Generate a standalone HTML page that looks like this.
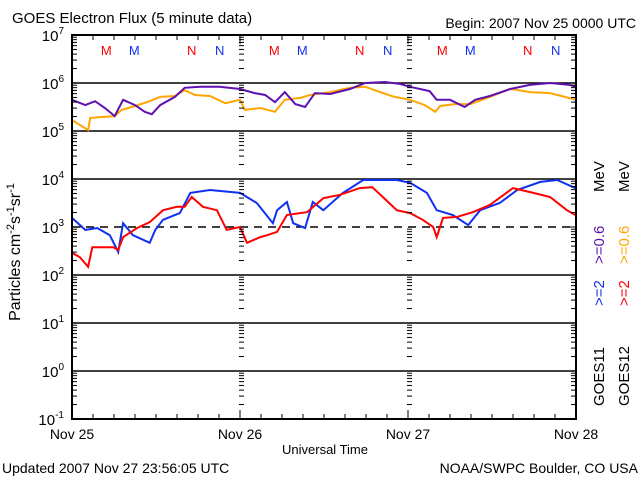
<!DOCTYPE html>
<html><head><meta charset="utf-8"><style>
html,body{margin:0;padding:0;background:#fff;}
svg{display:block;font-family:"Liberation Sans",sans-serif;}
</style></head><body>
<svg id="chart" width="640" height="480" viewBox="0 0 640 480" xmlns="http://www.w3.org/2000/svg">
<rect width="640" height="480" fill="#fff"/>
<text x="12" y="23" font-size="15">GOES Electron Flux (5 minute data)</text>
<text x="636" y="28" font-size="14" text-anchor="end">Begin: 2007 Nov 25 0000 UTC</text>
<text transform="translate(20,252) rotate(-90)" font-size="16" text-anchor="middle">Particles cm<tspan dy="-6" font-size="11">-2</tspan><tspan dy="6">s</tspan><tspan dy="-6" font-size="11">-1</tspan><tspan dy="6">sr</tspan><tspan dy="-6" font-size="11">-1</tspan></text>
<text x="325" y="454" font-size="13" text-anchor="middle">Universal Time</text>
<text x="2" y="473" font-size="14">Updated 2007 Nov 27 23:56:05 UTC</text>
<text x="638" y="473" font-size="14" text-anchor="end">NOAA/SWPC Boulder, CO USA</text>
<g id="grid"></g><g id="series"></g><g id="axes"></g><g id="labels"></g>
<g font-size="15">
<text transform="translate(604,406) rotate(-90)">GOES11</text>
<text transform="translate(604,306) rotate(-90)" fill="#1030f0">&gt;=2</text>
<text transform="translate(604,264) rotate(-90)" fill="#6010b0">&gt;=0.6</text>
<text transform="translate(604,192) rotate(-90)">MeV</text>
<text transform="translate(629,406) rotate(-90)">GOES12</text>
<text transform="translate(629,306) rotate(-90)" fill="#ff0000">&gt;=2</text>
<text transform="translate(629,264) rotate(-90)" fill="#ffa500">&gt;=0.6</text>
<text transform="translate(629,192) rotate(-90)">MeV</text>
</g>
</svg>
<script>
const dayLabels = ["Nov 25","Nov 26","Nov 27","Nov 28"];
const decadeExponents = [7,6,5,4,3,2,1,0,-1];
const markerLabels = ["M","M","N","N"];
const markerHours = [4.9,8.9,17.1,21.1];
const g11p6Hours = [0,1.9,3.3,4.7,6.1,7.3,9,10.4,11.4,12.6,14.7,16.1,18.3,21.1,24,26.1,27.6,29,30.4,31.9,33.3,34.7,36.9,39.7,41.9,44.7,46.9,48.3,51.1,52.1,54,56.1,57.6,59.7,62.6,65.4,68.3,71.1,72];
const g11p6Log = [5.65,5.54,5.62,5.48,5.31,5.65,5.54,5.40,5.35,5.54,5.71,5.90,5.92,5.92,5.875,5.79,5.75,5.60,5.81,5.56,5.50,5.79,5.77,5.875,6.0,6.02,5.98,5.92,5.83,5.65,5.65,5.50,5.65,5.73,5.875,5.96,6.0,5.96,5.92];
const g12p6Hours = [0,1.1,2.3,2.6,4,6.1,7.1,9,11.1,12.6,14.7,16.1,17.6,19.7,21.9,24,24.7,26.9,29,30.4,32.6,34,36.9,39.7,41.9,44,46.1,48.3,50.4,51.9,52.6,54.7,56.9,59.7,62.6,65.4,68.3,70.4,72];
const g12p6Log = [5.23,5.13,5.02,5.27,5.29,5.31,5.44,5.52,5.62,5.71,5.73,5.85,5.75,5.73,5.58,5.65,5.44,5.48,5.40,5.65,5.69,5.75,5.81,5.90,5.92,5.81,5.71,5.65,5.54,5.40,5.52,5.56,5.56,5.71,5.88,5.81,5.79,5.71,5.65];
const g11e2Hours = [0,1.9,3.6,5.4,6.6,7.3,8.7,11.1,11.9,13,15.4,16.9,19.7,24,26.4,28.7,29.3,30.7,31.6,33.3,34.4,35.9,38.7,41.6,46.4,48.3,50.7,52.1,54.4,56.6,58.3,61.1,63.6,66.9,69.3,71.9];
const g11e2Log = [3.19,2.94,2.98,2.83,2.48,3.08,2.83,2.67,2.94,3.15,3.29,3.71,3.77,3.71,3.50,3.08,3.35,3.52,3.08,2.98,3.52,3.35,3.71,3.98,3.98,3.92,3.71,3.35,3.25,3.04,3.35,3.50,3.77,3.94,3.98,3.81];
const g12e2Hours = [0,1.1,2.3,2.9,5.9,6.6,7.3,9.3,11.1,13,15,16.1,17.1,18.7,20.7,22.1,24,25,26.9,27.9,29.3,30.7,33.6,35.1,35.9,38.3,41.1,42.9,44.4,46.4,48.3,50.1,51.6,52.1,53,55,57.3,59.7,63,65.9,68.3,70.7,71.9];
const g12e2Log = [2.46,2.375,2.17,2.58,2.58,2.52,2.79,2.98,3.10,3.35,3.42,3.42,3.625,3.42,3.35,2.94,3.0,2.67,2.79,2.83,2.90,3.25,3.31,3.50,3.60,3.67,3.81,3.83,3.625,3.35,3.29,3.15,3.0,2.79,3.19,3.21,3.31,3.46,3.81,3.71,3.625,3.35,3.25];

const NS="http://www.w3.org/2000/svg";
const L=72,R=576,T=35,B=419,HOURS=72;
function xS(h){return L+(R-L)*h/HOURS;}
function yS(lg){return T+(7-lg)*(B-T)/8;}
function mk(tag,attrs,parent){const e=document.createElementNS(NS,tag);for(const k in attrs)e.setAttribute(k,attrs[k]);parent.appendChild(e);return e;}
const grid=document.getElementById('grid'),axes=document.getElementById('axes'),labels=document.getElementById('labels'),series=document.getElementById('series');

decadeExponents.forEach(ex=>{
  if(ex===7||ex===-1)return;
  const y=yS(ex);
  const ln=mk('line',{x1:L,x2:R,y1:y,y2:y,stroke:'#000','stroke-width':1.5},grid);
  if(ex===3)ln.setAttribute('stroke-dasharray','8,6');
  
  
});
decadeExponents.forEach(ex=>{
  const t=mk('text',{x:64,y:yS(ex)+6,'font-size':15,'text-anchor':'end'},labels);
  
  
  t.textContent='10';
  const s=mk('tspan',{dy:-7,'font-size':10},t);s.textContent=String(ex);
});
const tickX=[[L,1],[R,-1],[xS(24),0],[xS(48),0]];
for(let ex=-1;ex<7;ex++){
  for(let m=1;m<=10;m++){
    const y=yS(ex+Math.log10(m));
    const len=(m===1||m===10)?9:5;
    tickX.forEach(([x,d])=>{
      if(d===0){ if(m>1&&m<10) mk('line',{x1:x-1,x2:x+4,y1:y,y2:y,stroke:'#000','stroke-width':1},axes);}
      else mk('line',{x1:x,x2:x+d*len,y1:y,y2:y,stroke:'#000','stroke-width':1},axes);
    });
  }
}
for(let h=0;h<=HOURS;h+=3){
  const x=xS(h),len=(h%24===0)?9:5;
  mk('line',{x1:x,x2:x,y1:B,y2:B-len,stroke:'#000','stroke-width':1},axes);
  mk('line',{x1:x,x2:x,y1:T,y2:T+len,stroke:'#000','stroke-width':1},axes);
}
const fr=mk('rect',{x:L,y:T,width:R-L,height:B-T,fill:'none',stroke:'#000','stroke-width':2},axes);


dayLabels.forEach((d,i)=>{
  const t=mk('text',{x:xS(i*24),y:439,'font-size':14,'text-anchor':'middle'},labels);
  
  
  t.textContent=d;
});
for(let day=0;day<3;day++){
  markerHours.forEach((h,i)=>{
    const t=mk('text',{x:xS(day*24+h),y:55,'font-size':13,'text-anchor':'middle',fill:(i%2===0)?'#ff0000':'#1030f0'},labels);
    
    
    t.textContent=markerLabels[i];
  });
}
function draw(hours,vals,color,name){
  let d='';
  for(let i=0;i<hours.length;i++){
    const x=xS(hours[i]).toFixed(1),y=yS(vals[i]).toFixed(1);
    d+=(i===0?'M':'L')+x+','+y;
  }
  const p=mk('path',{d:d,fill:'none',stroke:color,'stroke-width':2,'stroke-linejoin':'miter'},series);
  
  
}
draw(g12p6Hours,g12p6Log,'#ffa500','series-goes12-0.6mev');
draw(g11p6Hours,g11p6Log,'#6010b0','series-goes11-0.6mev');
draw(g11e2Hours,g11e2Log,'#1030f0','series-goes11-2mev');
draw(g12e2Hours,g12e2Log,'#ff0000','series-goes12-2mev');
</script>
</body></html>
